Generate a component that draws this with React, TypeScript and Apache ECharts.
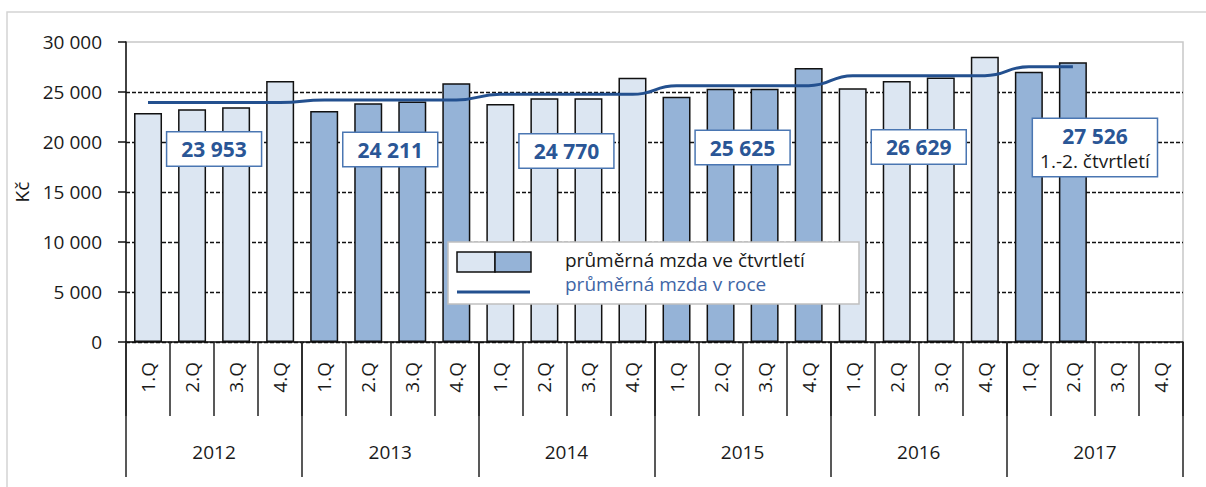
import React, { useEffect, useRef } from 'react';
import * as echarts from 'echarts';

const years = ['2012', '2013', '2014', '2015', '2016', '2017'];
const quarterNames = ['1.Q', '2.Q', '3.Q', '4.Q'];
const quarterlyWage: (number | null)[] = [
  22900, 23270, 23470, 26100,
  23100, 23870, 24050, 25870,
  23800, 24370, 24370, 26430,
  24530, 25330, 25330, 27400,
  25370, 26100, 26450, 28530,
  27030, 27970, null, null,
];
const annualWage = [23953, 24211, 24770, 25625, 26629, 27526];
const quartersReported = [4, 4, 4, 4, 4, 2];
const annotationY = [19300, 19250, 19100, 19450, 19500, 19450];
const annotationNote = ['', '', '', '', '', '1.-2. čtvrtletí'];
const yMin = 0;
const yMax = 30000;
const yInterval = 5000;
const seriesNames = ['průměrná mzda ve čtvrtletí', 'průměrná mzda v roce'];
const axisName = 'Kč';

const lightFill = '#DCE6F2';
const darkFill = '#95B3D7';
const lineColor = '#23508F';
const boxBlue = '#4A76B2';
const textBlue = '#2A5696';
const FONT = 'Open Sans';

const fmt = (v: number) => String(v).replace(/\B(?=(\d{3})+(?!\d))/g, ' ');

export default function App() {
  const ref = useRef<HTMLDivElement>(null);
  useEffect(() => {
    document.body.style.margin = '0';
    if (!ref.current) return;
    const chart = echarts.init(ref.current, null, { renderer: 'svg' });

    const categories: string[] = [];
    years.forEach(() => quarterNames.forEach((q) => categories.push(q)));

    const barData = quarterlyWage.map((v, i) => {
      const yi = Math.floor(i / 4);
      return {
        value: v,
        itemStyle: { color: yi % 2 === 0 ? lightFill : darkFill },
      };
    });

    const lineData: (number | null)[] = [];
    years.forEach((_, yi) => {
      quarterNames.forEach((_, qi) => {
        lineData.push(qi < quartersReported[yi] ? annualWage[yi] : null);
      });
    });

    const annData = annualWage.map((v, yi) => ({
      value: [yi, annotationY[yi]],
      label: {
        formatter: annotationNote[yi]
          ? `{v|${fmt(v)}}\n{n|${annotationNote[yi]}}`
          : `{v|${fmt(v)}}`,
        padding: annotationNote[yi] ? [4, 7, 3, 7] : [4, 14, 4, 14],
      },
    }));

    const Z = 100;

    chart.setOption({
      animation: false,
      textStyle: { fontFamily: FONT },
      grid: {
        left: 126,
        right: 23,
        top: 42,
        bottom: 145,
        show: true,
        borderColor: '#c8c8c8',
        borderWidth: 1.5,
        backgroundColor: 'transparent',
      },
      xAxis: [
        {
          type: 'category',
          data: categories,
          boundaryGap: true,
          axisLine: { show: true, lineStyle: { color: '#111', width: 1.5 } },
          axisTick: { show: true, interval: 0, length: 74, lineStyle: { color: '#222', width: 1.5 } },
          axisLabel: {
            interval: 0,
            rotate: 90,
            margin: 20,
            color: '#1a1a1a',
            fontSize: 19,
            fontFamily: FONT,
          },
          splitLine: { show: false },
        },
        {
          type: 'category',
          data: years,
          position: 'bottom',
          boundaryGap: true,
          axisLine: { show: false },
          axisTick: { show: true, interval: 0, length: 135, lineStyle: { color: '#222', width: 1.5 } },
          axisLabel: {
            interval: 0,
            margin: 100,
            color: '#1a1a1a',
            fontSize: 19,
            fontFamily: FONT,
          },
          splitLine: { show: false },
        },
      ],
      yAxis: {
        type: 'value',
        min: yMin,
        max: yMax,
        interval: yInterval,
        name: axisName,
        nameLocation: 'middle',
        nameGap: 92,
        nameRotate: 90,
        nameTextStyle: { color: '#1a1a1a', fontSize: 19, fontFamily: FONT },
        axisLine: { show: true, lineStyle: { color: '#111', width: 1.5 } },
        axisTick: { show: true, length: 8, lineStyle: { color: '#111', width: 1.5 } },
        axisLabel: {
          margin: 24,
          color: '#1a1a1a',
          fontSize: 19,
          fontFamily: FONT,
          formatter: (v: number) => fmt(v),
        },
        splitLine: {
          show: true,
          showMaxLine: false,
          lineStyle: { color: '#111', type: [4, 2], width: 1.4 },
        },
      },
      series: [
        {
          name: seriesNames[0],
          type: 'bar',
          xAxisIndex: 0,
          data: barData,
          barWidth: 28,
          itemStyle: { borderColor: '#111', borderWidth: 1.5 },
          z: 2,
        },
        {
          name: seriesNames[1],
          type: 'line',
          xAxisIndex: 0,
          data: lineData,
          smooth: 0.5,
          smoothMonotone: 'x',
          showSymbol: false,
          symbol: 'none',
          lineStyle: { color: lineColor, width: 3 },
          z: 3,
        },
        {
          type: 'scatter',
          xAxisIndex: 1,
          yAxisIndex: 0,
          symbolSize: 0,
          data: annData,
          z: 5,
          itemStyle: { opacity: 1 },
          label: {
            show: true,
            position: 'inside',
            backgroundColor: '#fff',
            borderColor: boxBlue,
            borderWidth: 1.5,
            opacity: 1,
            rich: {
              v: { fontSize: 21, fontWeight: 'bold', color: textBlue, fontFamily: FONT, lineHeight: 25, align: 'center' },
              n: { fontSize: 19, color: '#1a1a1a', fontFamily: FONT, lineHeight: 25, align: 'center' },
            },
          },
        },
      ],
      graphic: [
        {
          type: 'rect',
          silent: true,
          z: -1,
          shape: { x: 7, y: 12, width: 1230, height: 500 },
          style: { fill: 'none', stroke: '#d4d4d4', lineWidth: 1.5 },
        },
        {
          type: 'rect',
          z: Z,
          shape: { x: 448, y: 242, width: 411, height: 62 },
          style: { fill: '#fff', stroke: '#c0c0c0', lineWidth: 1.5 },
        },
        {
          type: 'rect',
          z: Z + 1,
          shape: { x: 457, y: 252, width: 38, height: 20 },
          style: { fill: lightFill, stroke: '#111', lineWidth: 1.5 },
        },
        {
          type: 'rect',
          z: Z + 1,
          shape: { x: 495, y: 252, width: 36, height: 20 },
          style: { fill: darkFill, stroke: '#111', lineWidth: 1.5 },
        },
        {
          type: 'line',
          z: Z + 1,
          shape: { x1: 457, y1: 292, x2: 530, y2: 292 },
          style: { stroke: lineColor, lineWidth: 3 },
        },
        {
          type: 'text',
          z: Z + 1,
          x: 565,
          y: 260,
          style: {
            text: seriesNames[0],
            fill: '#1a1a1a',
            font: `19px "${FONT}"`,
            lineHeight: 21,
            verticalAlign: 'middle',
          },
        },
        {
          type: 'text',
          z: Z + 1,
          x: 565,
          y: 284,
          style: {
            text: seriesNames[1],
            fill: '#3F66A6',
            font: `19px "${FONT}"`,
            lineHeight: 21,
            verticalAlign: 'middle',
          },
        },
      ],
    });
    return () => chart.dispose();
  }, []);
  return <div ref={ref} style={{ width: 1206, height: 487 }} />;
}
